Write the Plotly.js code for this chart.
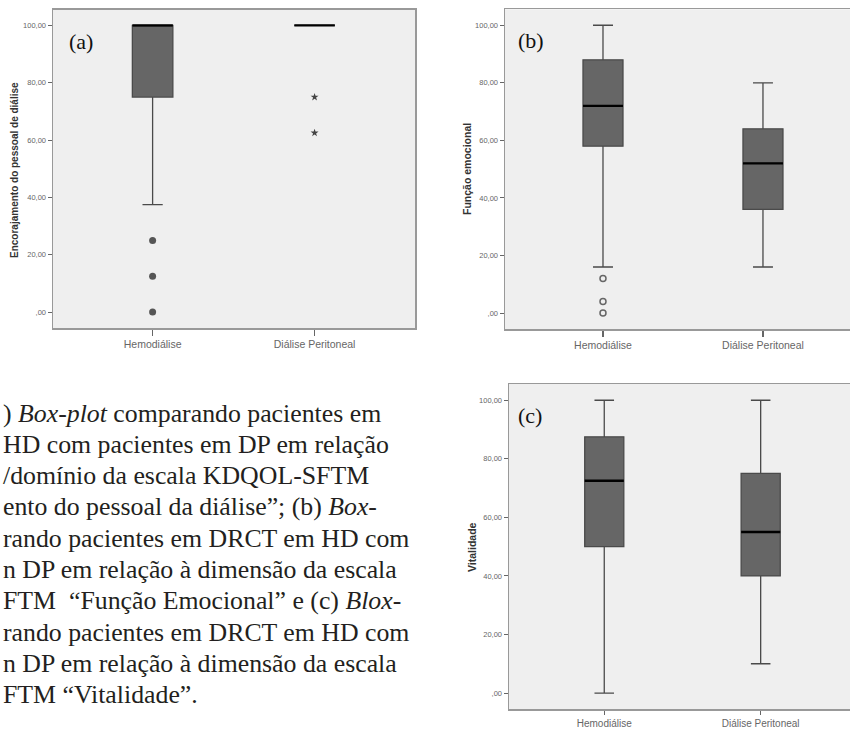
<!DOCTYPE html>
<html>
<head>
<meta charset="utf-8">
<script src="https://cdn.plot.ly/plotly-3.0.1.min.js"></script>
<style>html,body{margin:0;padding:0;background:#fff;}#chart{width:850px;height:729px;}</style>
</head>
<body>
<div id="chart"></div>
<script>
// ---------- data ----------
const categories = ["Hemodiálise", "Diálise Peritoneal"];
const catPos = [0, 1];
const yTickVals = [0, 20, 40, 60, 80, 100];
const yTickText = [",00", "20,00", "40,00", "60,00", "80,00", "100,00"];

// (a) Encorajamento do pessoal de diálise
const aQ1 = [75, 100];
const aMedian = [100, 100];
const aQ3 = [100, 100];
const aLower = [37.5, 100];
const aUpper = [100, 100];
const aOutliersHD = [25, 12.5, 0];
const aExtremesDP = [75, 62.5];

// (b) Função emocional
const bQ1 = [58, 36];
const bMedian = [72, 52];
const bQ3 = [88, 64];
const bLower = [16, 16];
const bUpper = [100, 80];
const bOutliersHD = [12, 4, 0];

// (c) Vitalidade
const cQ1 = [50, 40];
const cMedian = [72.5, 55];
const cQ3 = [87.5, 75];
const cLower = [0, 10];
const cUpper = [100, 100];

const captionLines = [
  ") <i>Box-plot</i> comparando pacientes em",
  "HD com pacientes em DP em relação",
  "/domínio da escala KDQOL-SFTM",
  "ento do pessoal da diálise”; (b) <i>Box</i>-",
  "rando pacientes em DRCT em HD com",
  "n DP em relação à dimensão da escala",
  "FTM  “Função Emocional” e (c) <i>Blox</i>-",
  "rando pacientes em DRCT em HD com",
  "n DP em relação à dimensão da escala",
  "FTM “Vitalidade”."
];

// ---------- styles ----------
const W = 850, H = 729;
const px = v => v / W;
const py = v => 1 - v / H;
const boxW = 0.25;
const boxFill = "#666666";
const boxLine = "#4a4a4a";

const traces = [];
function addPanel(ax, q1, med, q3, lo, hi) {
  const xa = "x" + ax, ya = "y" + ax;
  traces.push({
    type: "box", x: catPos, q1: q1, median: med, q3: q3,
    lowerfence: lo, upperfence: hi, width: boxW, whiskerwidth: 0.5,
    fillcolor: boxFill, line: {color: boxLine, width: 1.3},
    boxpoints: false, hoverinfo: "skip", showlegend: false,
    xaxis: xa, yaxis: ya
  });
  med.forEach((m, i) => {
    traces.push({
      type: "scatter", mode: "lines",
      x: [catPos[i] - boxW / 2, catPos[i] + boxW / 2], y: [m, m],
      line: {color: "#000", width: 2.4}, hoverinfo: "skip", showlegend: false,
      xaxis: xa, yaxis: ya
    });
  });
}
addPanel("", aQ1, aMedian, aQ3, aLower, aUpper);
addPanel("2", bQ1, bMedian, bQ3, bLower, bUpper);
addPanel("3", cQ1, cMedian, cQ3, cLower, cUpper);

traces.push({
  type: "scatter", mode: "markers", x: aOutliersHD.map(() => catPos[0]), y: aOutliersHD,
  marker: {symbol: "circle", size: 7, color: "#555"}, showlegend: false, hoverinfo: "skip",
  xaxis: "x", yaxis: "y"
});
traces.push({
  type: "scatter", mode: "markers", x: aExtremesDP.map(() => catPos[1]), y: aExtremesDP,
  marker: {symbol: "star", size: 6, color: "#444"}, showlegend: false, hoverinfo: "skip",
  xaxis: "x", yaxis: "y"
});
traces.push({
  type: "scatter", mode: "markers", x: bOutliersHD.map(() => catPos[0]), y: bOutliersHD,
  marker: {symbol: "circle-open", size: 6, color: "#666", line: {width: 1.5, color: "#666"}},
  showlegend: false, hoverinfo: "skip", xaxis: "x2", yaxis: "y2"
});

function xAxis(domain, range, anchor, tlen, tsize) {
  return {
    domain: domain, range: range, anchor: anchor,
    tickvals: catPos, ticktext: categories, ticks: "outside", ticklen: tlen,
    tickcolor: "#666", tickwidth: 1.3,
    tickfont: {family: "Arial, Liberation Sans, sans-serif", size: tsize, color: "#666"},
    showline: true, mirror: true, linecolor: "#999", linewidth: 1.5,
    showgrid: false, zeroline: false, fixedrange: true
  };
}
function yAxis(domain, anchor, mirror) {
  return {
    domain: domain, range: [-5.55, 105.55], anchor: anchor,
    tickvals: yTickVals, ticktext: yTickText, ticks: "outside", ticklen: 4,
    tickcolor: "#666", tickwidth: 1,
    tickfont: {family: "Arial, Liberation Sans, sans-serif", size: 7.5, color: "#666"},
    showline: true, mirror: mirror, linecolor: "#999", linewidth: 1.5,
    showgrid: false, zeroline: false, fixedrange: true
  };
}

const annotations = [];
function label(text, x, y, opts) {
  annotations.push(Object.assign({
    text: text, xref: "paper", yref: "paper", x: px(x), y: py(y),
    showarrow: false
  }, opts));
}
const serif = "Liberation Serif, Times New Roman, serif";
label("(a)", 67, 42, {xanchor: "left", yanchor: "middle", font: {family: serif, size: 22, color: "#111"}});
label("(b)", 516, 40, {xanchor: "left", yanchor: "middle", font: {family: serif, size: 22, color: "#111"}});
label("(c)", 516, 415, {xanchor: "left", yanchor: "middle", font: {family: serif, size: 22, color: "#111"}});

const tf = s => ({family: "Arial, Liberation Sans, sans-serif", size: s, color: "#333"});
label("<b>Encorajamento do pessoal de diálise</b>", 15, 170, {textangle: -90, xanchor: "center", yanchor: "middle", font: tf(10)});
label("<b>Função emocional</b>", 467, 169, {textangle: -90, xanchor: "center", yanchor: "middle", font: tf(10.5)});
label("<b>Vitalidade</b>", 472, 547, {textangle: -90, xanchor: "center", yanchor: "middle", font: tf(10.5)});

captionLines.forEach((t, i) => {
  label(t, 1, 413 + i * 31.3, {xanchor: "left", yanchor: "middle", align: "left",
    font: {family: serif, size: 25.8, color: "#231f20"}});
});

const layout = {
  width: W, height: H,
  margin: {l: 0, r: 0, t: 0, b: 0},
  paper_bgcolor: "#ffffff",
  plot_bgcolor: "#efefef",
  showlegend: false,
  xaxis: xAxis([px(53), px(415)], [-0.615, 1.62], "y", 6, 10.5),
  yaxis: yAxis([py(328), py(9.5)], "x", true),
  xaxis2: xAxis([px(505), 1], [-0.6125, 1.544], "y2", 6, 10.5),
  yaxis2: yAxis([py(329), py(9.3)], "x2", false),
  xaxis3: xAxis([px(509), 1], [-0.609, 1.571], "y3", 4, 10),
  yaxis3: yAxis([py(709.3), py(384)], "x3", false),
  annotations: annotations
};

Plotly.newPlot("chart", traces, layout, {staticPlot: true, displayModeBar: false});
</script>
</body>
</html>
